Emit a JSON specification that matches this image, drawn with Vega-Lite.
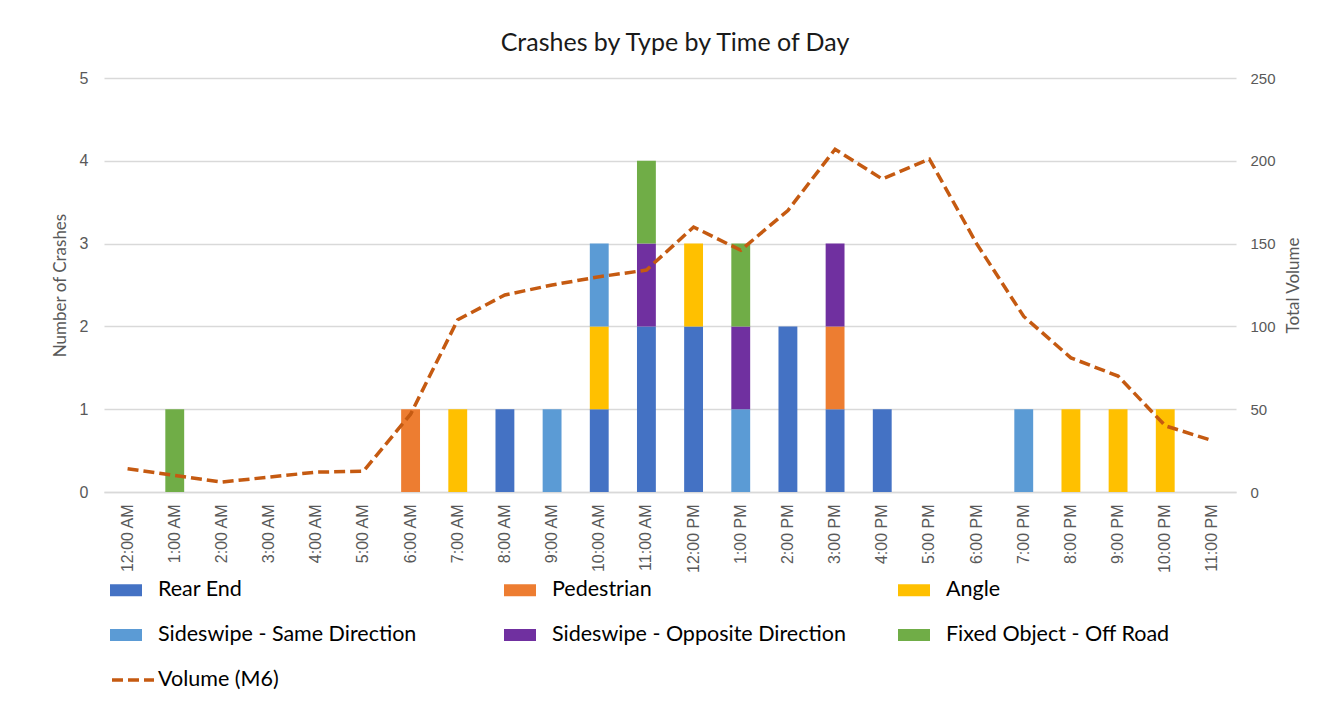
{
  "$schema": "https://vega.github.io/schema/vega-lite/v6.json",
  "width": 1132,
  "height": 414,
  "autosize": {"type": "none"},
  "padding": {"left": 104, "top": 78, "right": 94, "bottom": 212},
  "background": "white",
  "title": {"text": "Crashes by Type by Time of Day", "font": "Lato", "fontSize": 25, "fontWeight": "normal", "color": "#1a1a1a", "anchor": "middle", "offset": 14, "dx": 5},
  "config": {
    "view": {"stroke": null},
    "legend": {"padding": 0}
  },
  "datasets": {
    "types": [
      {"type": "Rear End", "rank": 1},
      {"type": "Pedestrian", "rank": 2},
      {"type": "Angle", "rank": 3},
      {"type": "Sideswipe - Same Direction", "rank": 4},
      {"type": "Sideswipe - Opposite Direction", "rank": 5},
      {"type": "Fixed Object - Off Road", "rank": 6}
    ],
    "crashes": [
      {"hour": "1:00 AM", "type": "Fixed Object - Off Road", "count": 1},
      {"hour": "6:00 AM", "type": "Pedestrian", "count": 1},
      {"hour": "7:00 AM", "type": "Angle", "count": 1},
      {"hour": "8:00 AM", "type": "Rear End", "count": 1},
      {"hour": "9:00 AM", "type": "Sideswipe - Same Direction", "count": 1},
      {"hour": "10:00 AM", "type": "Rear End", "count": 1},
      {"hour": "10:00 AM", "type": "Angle", "count": 1},
      {"hour": "10:00 AM", "type": "Sideswipe - Same Direction", "count": 1},
      {"hour": "11:00 AM", "type": "Rear End", "count": 2},
      {"hour": "11:00 AM", "type": "Sideswipe - Opposite Direction", "count": 1},
      {"hour": "11:00 AM", "type": "Fixed Object - Off Road", "count": 1},
      {"hour": "12:00 PM", "type": "Rear End", "count": 2},
      {"hour": "12:00 PM", "type": "Angle", "count": 1},
      {"hour": "1:00 PM", "type": "Sideswipe - Same Direction", "count": 1},
      {"hour": "1:00 PM", "type": "Sideswipe - Opposite Direction", "count": 1},
      {"hour": "1:00 PM", "type": "Fixed Object - Off Road", "count": 1},
      {"hour": "2:00 PM", "type": "Rear End", "count": 2},
      {"hour": "3:00 PM", "type": "Rear End", "count": 1},
      {"hour": "3:00 PM", "type": "Pedestrian", "count": 1},
      {"hour": "3:00 PM", "type": "Sideswipe - Opposite Direction", "count": 1},
      {"hour": "4:00 PM", "type": "Rear End", "count": 1},
      {"hour": "7:00 PM", "type": "Sideswipe - Same Direction", "count": 1},
      {"hour": "8:00 PM", "type": "Angle", "count": 1},
      {"hour": "9:00 PM", "type": "Angle", "count": 1},
      {"hour": "10:00 PM", "type": "Angle", "count": 1}
    ],
    "volume": [
      {"hour": "12:00 AM", "volume": 14, "series": "Volume (M6)"},
      {"hour": "1:00 AM", "volume": 10, "series": "Volume (M6)"},
      {"hour": "2:00 AM", "volume": 6, "series": "Volume (M6)"},
      {"hour": "3:00 AM", "volume": 9, "series": "Volume (M6)"},
      {"hour": "4:00 AM", "volume": 12, "series": "Volume (M6)"},
      {"hour": "5:00 AM", "volume": 12.5, "series": "Volume (M6)"},
      {"hour": "6:00 AM", "volume": 47, "series": "Volume (M6)"},
      {"hour": "7:00 AM", "volume": 104, "series": "Volume (M6)"},
      {"hour": "8:00 AM", "volume": 119, "series": "Volume (M6)"},
      {"hour": "9:00 AM", "volume": 125, "series": "Volume (M6)"},
      {"hour": "10:00 AM", "volume": 130, "series": "Volume (M6)"},
      {"hour": "11:00 AM", "volume": 134, "series": "Volume (M6)"},
      {"hour": "12:00 PM", "volume": 160, "series": "Volume (M6)"},
      {"hour": "1:00 PM", "volume": 146, "series": "Volume (M6)"},
      {"hour": "2:00 PM", "volume": 170, "series": "Volume (M6)"},
      {"hour": "3:00 PM", "volume": 207, "series": "Volume (M6)"},
      {"hour": "4:00 PM", "volume": 189, "series": "Volume (M6)"},
      {"hour": "5:00 PM", "volume": 201, "series": "Volume (M6)"},
      {"hour": "6:00 PM", "volume": 150, "series": "Volume (M6)"},
      {"hour": "7:00 PM", "volume": 106, "series": "Volume (M6)"},
      {"hour": "8:00 PM", "volume": 81, "series": "Volume (M6)"},
      {"hour": "9:00 PM", "volume": 70, "series": "Volume (M6)"},
      {"hour": "10:00 PM", "volume": 40, "series": "Volume (M6)"},
      {"hour": "11:00 PM", "volume": 31, "series": "Volume (M6)"}
    ]
  },
  "layer": [
    {
      "data": {"name": "crashes"},
      "transform": [
        {"lookup": "type", "from": {"data": {"name": "types"}, "key": "type", "fields": ["rank"]}}
      ],
      "mark": {"type": "bar"},
      "encoding": {
        "x": {
          "field": "hour", "type": "nominal", "sort": null,
          "scale": {
            "domain": ["12:00 AM", "1:00 AM", "2:00 AM", "3:00 AM", "4:00 AM", "5:00 AM", "6:00 AM", "7:00 AM", "8:00 AM", "9:00 AM", "10:00 AM", "11:00 AM", "12:00 PM", "1:00 PM", "2:00 PM", "3:00 PM", "4:00 PM", "5:00 PM", "6:00 PM", "7:00 PM", "8:00 PM", "9:00 PM", "10:00 PM", "11:00 PM"],
            "paddingInner": 0.6, "paddingOuter": 0.3
          },
          "axis": {
            "title": null, "labelAngle": -90, "labelFont": "Liberation Sans", "labelFontSize": 16, "labelColor": "#595959",
            "labelPadding": 12, "ticks": false, "domainColor": "#D9D9D9", "domainWidth": 1.5
          }
        },
        "y": {
          "field": "count", "type": "quantitative", "stack": "zero",
          "scale": {"domain": [0, 5], "nice": false},
          "axis": {
            "title": "Number of Crashes", "values": [0, 1, 2, 3, 4, 5], "format": "d",
            "titleFont": "Lato", "titleFontSize": 17, "titleFontWeight": "normal", "titleColor": "#595959", "titlePadding": 10,
            "labelFont": "Liberation Sans", "labelFontSize": 16, "labelColor": "#595959", "labelPadding": 16,
            "grid": true, "gridColor": "#D9D9D9", "gridWidth": 1.5, "domain": false, "ticks": false
          }
        },
        "order": {"field": "rank", "type": "quantitative", "sort": "ascending"},
        "color": {
          "field": "type", "type": "nominal",
          "sort": ["Rear End", "Pedestrian", "Angle", "Sideswipe - Same Direction", "Sideswipe - Opposite Direction", "Fixed Object - Off Road"],
          "scale": {
            "domain": ["Rear End", "Pedestrian", "Angle", "Sideswipe - Same Direction", "Sideswipe - Opposite Direction", "Fixed Object - Off Road"],
            "range": ["#4472C4", "#ED7D31", "#FFC000", "#5B9BD5", "#7030A0", "#70AD47"]
          },
          "legend": {
            "title": null, "orient": "none", "legendX": 6, "legendY": 496, "direction": "horizontal", "columns": 3,
            "gridAlign": "all", "columnPadding": 52, "rowPadding": 18,
            "symbolType": "M-1,-0.375H1V0.375H-1Z", "symbolSize": 1024, "symbolStrokeWidth": 0,
            "labelFont": "Lato", "labelFontSize": 21.5, "labelColor": "#000000", "labelOffset": 16, "labelLimit": 400
          }
        }
      }
    },
    {
      "data": {"name": "volume"},
      "mark": {"type": "line", "color": "#C55A11", "strokeWidth": 3.5, "strokeCap": "butt"},
      "encoding": {
        "x": {"field": "hour", "type": "nominal", "sort": null},
        "y": {
          "field": "volume", "type": "quantitative",
          "scale": {"domain": [0, 250], "nice": false},
          "axis": {
            "orient": "right", "title": "Total Volume", "values": [0, 50, 100, 150, 200, 250],
            "titleFont": "Lato", "titleFontSize": 17, "titleFontWeight": "normal", "titleColor": "#595959", "titlePadding": 10, "titleAngle": 270, "titleBaseline": "top",
            "labelFont": "Liberation Sans", "labelFontSize": 15, "labelColor": "#595959", "labelPadding": 14,
            "grid": false, "domain": false, "ticks": false
          }
        },
        "strokeDash": {
          "field": "series", "type": "nominal",
          "scale": {"domain": ["Volume (M6)"], "range": [[11, 5]]},
          "legend": {
            "title": null, "orient": "none", "legendX": 6, "legendY": 579,
            "symbolType": "stroke", "symbolSize": 1764, "symbolStrokeWidth": 3.5, "symbolStrokeColor": "#C55A11",
            "labelFont": "Lato", "labelFontSize": 21.5, "labelColor": "#000000", "labelOffset": 2
          }
        }
      }
    }
  ],
  "resolve": {"scale": {"y": "independent"}}
}
